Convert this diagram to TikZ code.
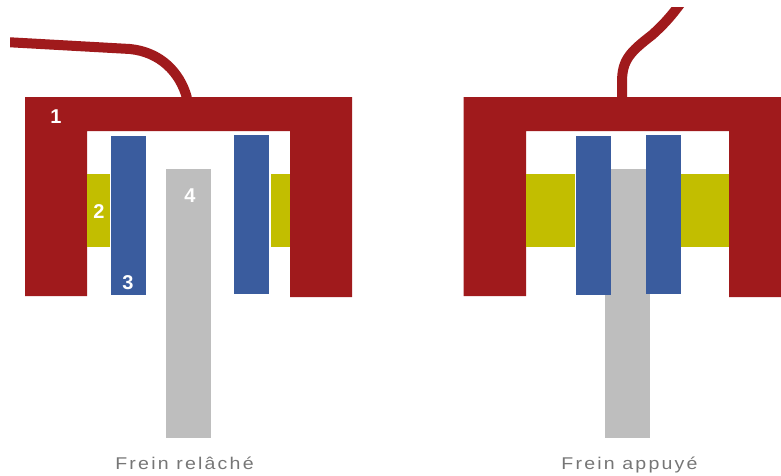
\documentclass[tikz,border=0pt]{standalone}
\usepackage{fontspec}
\setmainfont{Liberation Sans}
\newfontfamily\captionfont[FakeStretch=1.15,LetterSpace=13]{Liberation Sans}
\definecolor{caliperred}{RGB}{160,26,28}
\definecolor{padyellow}{RGB}{194,190,0}
\definecolor{pistonblue}{RGB}{58,92,158}
\definecolor{discgray}{RGB}{190,190,190}
\definecolor{captiongray}{RGB}{118,118,118}
\begin{document}
\begin{tikzpicture}[x=1pt,y=-1pt,
 wire/.style={caliperred,line width=10pt},
 num/.style={white,font=\bfseries\fontsize{20}{20}\selectfont,inner sep=0pt},
 caption/.style={captiongray,font=\captionfont\fontsize{17}{17}\selectfont,inner sep=0pt,anchor=base}]
 \useasboundingbox (0,0) rectangle (781,475);
 % left: released
 \begin{scope}
  \clip (10,0) rectangle (352,97.5);
  \draw[wire] (5,42) -- (130,49) .. controls (160,52) and (180,72) .. (187,98);
 \end{scope}
 \fill[caliperred] (25,97) -- (352,97) -- (352,297) -- (290,297) -- (290,131) -- (87,131) -- (87,296) -- (25,296) -- cycle;
 \fill[padyellow] (87,174) rectangle (110,247);
 \fill[padyellow] (271,174) rectangle (290,247);
 \fill[pistonblue] (111,136) rectangle (146,295);
 \fill[pistonblue] (234,135) rectangle (269,294);
 \fill[discgray] (166,169) rectangle (211,438);
 \node[num] (n1) at (56,117) {1};
 \node[num] (n2) at (99,212) {2};
 \node[num] (n3) at (128,283) {3};
 \node[num] (n4) at (190,196) {4};
 \node[caption] (released) at (184.5,469) {Frein relâché};
 % right: applied
 \begin{scope}
  \clip (560,7) rectangle (720,97.5);
  \draw[wire] (685,-3) .. controls (672,16) and (662,26) .. (652,35) .. controls (630,52) and (622,60) .. (622,82) -- (622,98);
 \end{scope}
 \fill[caliperred] (463.5,97) -- (781,97) -- (781,297) -- (729,297) -- (729,131) -- (526,131) -- (526,296) -- (463.5,296) -- cycle;
 \fill[padyellow] (526,174) rectangle (575,247);
 \fill[padyellow] (681,174) rectangle (729,247);
 \fill[discgray] (605,169) rectangle (650,438);
 \fill[pistonblue] (576,136) rectangle (611,295);
 \fill[pistonblue] (646,135) rectangle (681,294);
 \node[caption] (applied) at (629.5,469) {Frein appuyé};
\end{tikzpicture}
\end{document}
